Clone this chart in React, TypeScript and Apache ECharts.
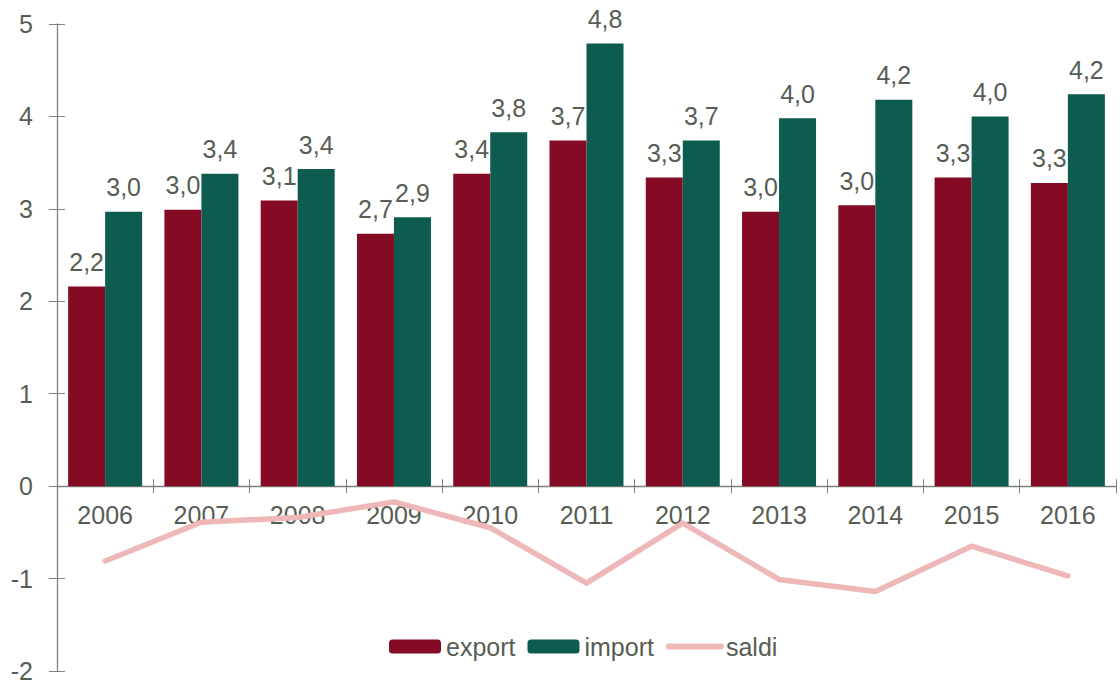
import React, { useEffect, useRef } from "react";
import * as echarts from "echarts";

const years = ["2006", "2007", "2008", "2009", "2010", "2011", "2012", "2013", "2014", "2015", "2016"];
const exportValues = [2.16, 2.99, 3.09, 2.73, 3.38, 3.74, 3.34, 2.97, 3.04, 3.34, 3.28];
const importValues = [2.97, 3.38, 3.43, 2.91, 3.83, 4.79, 3.74, 3.98, 4.18, 4.0, 4.24];
const saldiValues = [-0.81, -0.39, -0.34, -0.17, -0.45, -1.05, -0.4, -1.01, -1.14, -0.65, -0.97];
const yTicks = { min: -2, max: 5, interval: 1 };

const TEXT = "#565e53";
const AXIS = "#7f827d";
const FONT = "'Liberation Sans', Arial, sans-serif";
const FS = 25;

const fmt = (v: number) => v.toFixed(1).replace(".", ",");

export default function App() {
  const ref = useRef<HTMLDivElement>(null);
  useEffect(() => {
    if (!ref.current) return;
    const chart = echarts.init(ref.current, null, { renderer: "svg" });
    const label = {
      show: true,
      position: "top" as const,
      distance: 12,
      color: TEXT,
      fontSize: FS,
      fontFamily: FONT,
      formatter: (p: any) => fmt(p.value),
    };
    const gridBase = { left: 57, right: 4, top: 24, containLabel: false, outerBoundsMode: "none" };
    const plotH = 682 - 11 - 24;
    const zeroH = (plotH * yTicks.max) / (yTicks.max - yTicks.min);
    chart.setOption({
      animation: false,
      textStyle: { fontFamily: FONT },
      grid: [
        { ...gridBase, bottom: 11 },
        { ...gridBase, height: zeroH },
        { ...gridBase, bottom: 11 },
      ],
      legend: {
        data: [
          { name: "export" },
          { name: "import" },
          { name: "saldi", itemStyle: { opacity: 0 }, lineStyle: { width: 6, cap: "round" } },
        ],
        left: 384,
        top: 629,
        itemWidth: 52,
        itemHeight: 14,
        itemGap: 12,
        textStyle: { color: TEXT, fontSize: FS, fontFamily: FONT },
      },
      xAxis: [
        {
          type: "category",
          gridIndex: 0,
          data: years,
          axisLine: { onZero: true, lineStyle: { color: AXIS, width: 1.3 } },
          axisTick: { show: true, inside: false, length: 7, lineStyle: { color: AXIS } },
          axisLabel: { show: false },
          splitLine: { show: false },
        },
        {
          type: "category",
          gridIndex: 1,
          data: years,
          position: "bottom",
          axisLine: { show: false, onZero: false },
          axisTick: { show: true, inside: true, length: 7, lineStyle: { color: AXIS } },
          axisLabel: { show: true, color: TEXT, fontSize: FS, fontFamily: FONT, margin: 16 },
          splitLine: { show: false },
        },
        {
          type: "category",
          gridIndex: 2,
          data: years,
          show: false,
        },
      ],
      yAxis: [
        {
          type: "value",
          gridIndex: 0,
          position: "left",
          min: yTicks.min,
          max: yTicks.max,
          interval: yTicks.interval,
          axisLine: { show: true, lineStyle: { color: AXIS, width: 1.3 } },
          axisTick: { show: true, inside: false, length: 8, lineStyle: { color: AXIS } },
          axisLabel: { color: TEXT, fontSize: FS, fontFamily: FONT, margin: 24 },
          splitLine: { show: false },
        },
        {
          type: "value",
          gridIndex: 1,
          min: 0,
          max: yTicks.max,
          interval: yTicks.interval,
          show: false,
        },
        {
          type: "value",
          gridIndex: 2,
          position: "left",
          min: yTicks.min,
          max: yTicks.max,
          interval: yTicks.interval,
          axisLine: { show: false, onZero: false },
          axisTick: { show: true, inside: true, length: 8, lineStyle: { color: AXIS } },
          axisLabel: { show: false },
          splitLine: { show: false },
        },
      ],
      series: [
        {
          name: "export",
          type: "bar",
          data: exportValues,
          barWidth: 37,
          barGap: "0%",
          itemStyle: { color: "#850b24" },
          label,
        },
        {
          name: "import",
          type: "bar",
          data: importValues,
          barWidth: 37,
          barGap: "0%",
          itemStyle: { color: "#0e5c4f" },
          label,
        },
        {
          name: "saldi",
          type: "line",
          data: saldiValues,
          symbol: "none",
          lineStyle: { color: "#efb8b8", width: 5.5, cap: "round", join: "round" },
          itemStyle: { color: "#efb8b8" },
          z: 3,
        },
      ],
    });
    return () => chart.dispose();
  }, []);
  return (
    <div
      ref={ref}
      style={{ position: "fixed", left: 0, top: 0, width: 1120, height: 682, background: "#fff" }}
    />
  );
}
